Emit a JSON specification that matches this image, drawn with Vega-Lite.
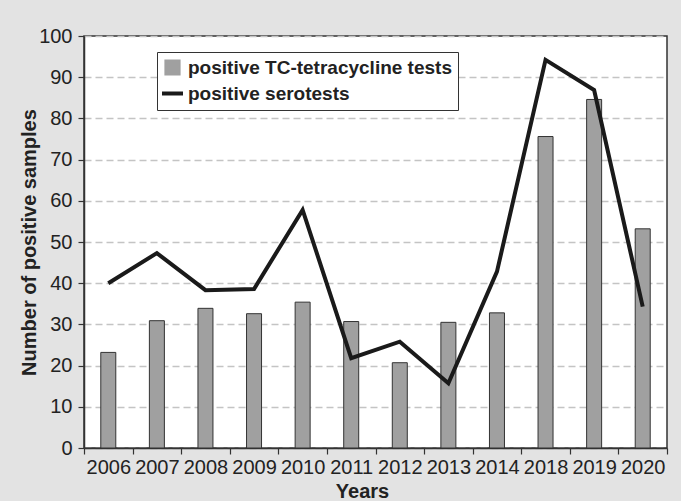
{
  "$schema": "https://vega.github.io/schema/vega-lite/v6.json",
  "width": 583,
  "height": 412,
  "autosize": "none",
  "padding": {"left": 84, "top": 36, "right": 14, "bottom": 53},
  "background": "#e3e3e3",
  "config": {
    "font": "Liberation Sans",
    "view": {"fill": "white", "stroke": "#333333", "strokeWidth": 1.5}
  },
  "data": {
    "values": [
      {"year": 2006, "series": "positive TC-tetracycline tests", "value": 23.2},
      {"year": 2007, "series": "positive TC-tetracycline tests", "value": 30.9},
      {"year": 2008, "series": "positive TC-tetracycline tests", "value": 33.9},
      {"year": 2009, "series": "positive TC-tetracycline tests", "value": 32.6},
      {"year": 2010, "series": "positive TC-tetracycline tests", "value": 35.4},
      {"year": 2011, "series": "positive TC-tetracycline tests", "value": 30.7},
      {"year": 2012, "series": "positive TC-tetracycline tests", "value": 20.7},
      {"year": 2013, "series": "positive TC-tetracycline tests", "value": 30.5},
      {"year": 2014, "series": "positive TC-tetracycline tests", "value": 32.8},
      {"year": 2018, "series": "positive TC-tetracycline tests", "value": 75.6},
      {"year": 2019, "series": "positive TC-tetracycline tests", "value": 84.6},
      {"year": 2020, "series": "positive TC-tetracycline tests", "value": 53.2},
      {"year": 2006, "series": "positive serotests", "value": 40.0},
      {"year": 2007, "series": "positive serotests", "value": 47.3},
      {"year": 2008, "series": "positive serotests", "value": 38.3},
      {"year": 2009, "series": "positive serotests", "value": 38.6},
      {"year": 2010, "series": "positive serotests", "value": 57.8},
      {"year": 2011, "series": "positive serotests", "value": 21.8},
      {"year": 2012, "series": "positive serotests", "value": 25.8},
      {"year": 2013, "series": "positive serotests", "value": 15.7},
      {"year": 2014, "series": "positive serotests", "value": 42.8},
      {"year": 2018, "series": "positive serotests", "value": 94.2},
      {"year": 2019, "series": "positive serotests", "value": 86.9},
      {"year": 2020, "series": "positive serotests", "value": 34.3}
    ]
  },
  "encoding": {
    "x": {
      "field": "year",
      "type": "ordinal",
      "scale": {"paddingInner": 0, "paddingOuter": 0},
      "axis": {
        "title": "Years",
        "tickBand": "extent",
        "labelAngle": 0,
        "grid": false,
        "domainColor": "#333333",
        "domainWidth": 1.5,
        "tickColor": "#333333",
        "tickWidth": 1.2,
        "tickSize": 6,
        "labelFontSize": 20,
        "labelColor": "#222222",
        "labelPadding": 3,
        "titleFontSize": 20,
        "titleFontWeight": "bold",
        "titleColor": "#222222",
        "titleX": 278,
        "titleY": 49,
        "titleBaseline": "alphabetic"
      }
    },
    "y": {
      "field": "value",
      "type": "quantitative",
      "scale": {"domain": [0, 100], "nice": false},
      "axis": {
        "title": "Number of positive samples",
        "values": [0, 10, 20, 30, 40, 50, 60, 70, 80, 90, 100],
        "grid": true,
        "gridDash": [7, 4],
        "gridColor": "#c4c4c4",
        "gridWidth": 1.5,
        "domainColor": "#333333",
        "domainWidth": 1.5,
        "tickColor": "#333333",
        "tickWidth": 1.2,
        "tickSize": 6,
        "labelFontSize": 20,
        "labelColor": "#222222",
        "labelPadding": 6,
        "titleFontSize": 20,
        "titleFontWeight": "bold",
        "titleColor": "#222222",
        "titleX": -55,
        "titleY": 206,
        "titleBaseline": "middle"
      }
    },
    "color": {
      "field": "series",
      "type": "nominal",
      "scale": {
        "domain": ["positive TC-tetracycline tests", "positive serotests"],
        "range": ["#a0a0a0", "#1a1a1a"]
      },
      "legend": {
        "title": null,
        "orient": "none",
        "legendX": 73,
        "legendY": 16,
        "fillColor": "white",
        "strokeColor": "#333333",
        "padding": 6,
        "rowPadding": 6,
        "labelOffset": 6,
        "labelLimit": 500,
        "labelFontSize": 19,
        "labelFontWeight": "bold",
        "labelColor": "#222222",
        "symbolSize": 441,
        "symbolStrokeColor": "#333333",
        "encode": {
          "symbols": {
            "update": {
              "shape": {"signal": "datum.value === 'positive serotests' ? 'stroke' : 'square'"},
              "size": {"signal": "datum.value === 'positive serotests' ? 441 : 225"},
              "fill": {"signal": "datum.value === 'positive serotests' ? 'transparent' : '#a0a0a0'"},
              "stroke": {"signal": "datum.value === 'positive serotests' ? '#1a1a1a' : '#333333'"},
              "strokeWidth": {"signal": "datum.value === 'positive serotests' ? 4 : 1.2"},
              "opacity": {"value": 1}
            }
          }
        }
      }
    }
  },
  "layer": [
    {
      "transform": [{"filter": "datum.series === 'positive TC-tetracycline tests'"}],
      "mark": {"type": "bar", "width": 15, "stroke": "#333333", "strokeWidth": 1, "opacity": 1}
    },
    {
      "transform": [{"filter": "datum.series === 'positive serotests'"}],
      "mark": {"type": "line", "strokeWidth": 4, "strokeJoin": "miter"}
    }
  ]
}
